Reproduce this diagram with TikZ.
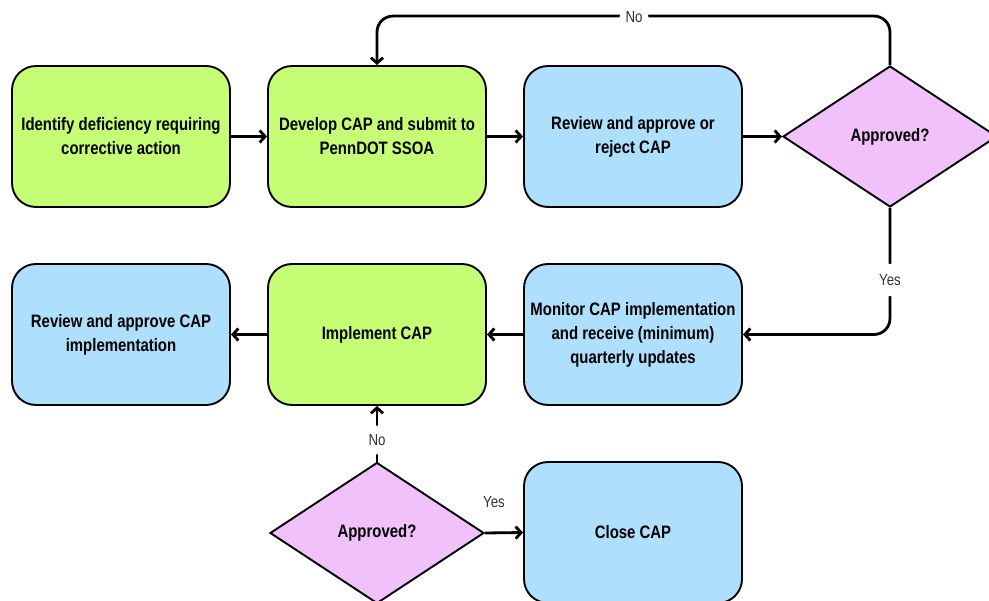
\documentclass[tikz,border=0pt]{standalone}
\usepackage{fontspec}
\setmainfont{Liberation Sans}[FakeStretch=0.83]
\usetikzlibrary{arrows.meta,shapes.geometric}
\definecolor{gfill}{HTML}{C5FE74}
\definecolor{bfill}{HTML}{AEE0FD}
\definecolor{pfill}{HTML}{F0C1FB}
\definecolor{lbltext}{HTML}{333333}
\begin{document}
\begin{tikzpicture}[x=1pt,y=-1pt,
  box/.style={draw=black, line width=1.9pt, rounded corners=24pt,
    minimum width=218pt, minimum height=141pt, align=center, inner sep=0pt,
    font=\fontsize{18}{24}\selectfont\bfseries},
  gbox/.style={box, fill=gfill},
  bbox/.style={box, fill=bfill},
  dec/.style={diamond, draw=black, line width=1.9pt, fill=pfill,
    minimum width=214pt, minimum height=141pt, inner sep=0pt, align=center,
    font=\fontsize{18}{24}\selectfont\bfseries},
  conn/.style={draw=black, line width=2.8pt, -{Straight Barb[length=5.5pt,width=12pt]}},
  lbl/.style={fill=white, text=lbltext, inner sep=3pt, circle,
    font=\fontsize{16}{18}\selectfont}
]
\useasboundingbox (0,0) rectangle (989,601);

\node[gbox] (b1) at (121,136.5) {Identify deficiency requiring\\corrective action};
\node[gbox] (b2) at (377,136.5) {Develop CAP and submit to\\PennDOT SSOA};
\node[bbox] (b3) at (633,136.5) {Review and approve or\\reject CAP};
\node[dec]  (d1) at (890,136.5) {Approved?};

\node[bbox] (b4) at (121,334.5) {Review and approve CAP\\implementation};
\node[gbox] (b5) at (377,334.5) {Implement CAP};
\node[bbox] (b6) at (633,334.5) {Monitor CAP implementation\\and receive (minimum)\\quarterly updates};

\node[dec]  (d2) at (377,533) {Approved?};
\node[bbox] (b7) at (633,532.5) {Close CAP};

\draw[conn] (b1.east) -- (b2.west);
\draw[conn] (b2.east) -- (b3.west);
\draw[conn] (b3.east) -- (d1.west);
\draw[conn, rounded corners=16pt] (d1.north) -- ++(0,-49) -| (b2.north);
\node[lbl] (no1) at (634,17) {No};
\draw[conn, rounded corners=16pt] (d1.south) |- (b6.east);
\node[lbl] (yes1) at (890,280) {Yes};
\draw[conn] (b6.west) -- (b5.east);
\draw[conn] (b5.west) -- (b4.east);
\draw[conn] (d2.north) -- (b5.south);
\node[lbl] (no2) at (377,440) {No};
\draw[conn] (d2.east) -- (b7.west);
\node[lbl] (yes2) at (494,502) {Yes};
\end{tikzpicture}
\end{document}
